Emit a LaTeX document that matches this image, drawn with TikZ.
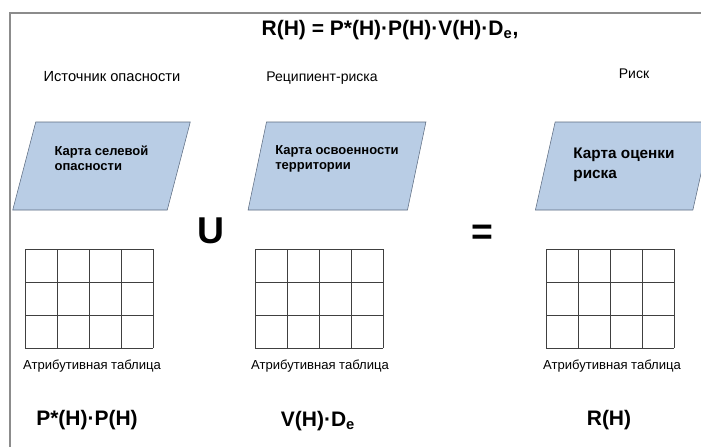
\documentclass[tikz,border=0pt]{standalone}
\usepackage{fontspec}
\setmainfont{Liberation Sans}
\usetikzlibrary{shapes.geometric,positioning}
\definecolor{mapblue}{HTML}{B9CDE5}
\definecolor{mapedge}{HTML}{5C6B80}
\definecolor{framegray}{HTML}{8C8C8C}
\definecolor{gridgray}{HTML}{404040}
\tikzset{
  map/.style   ={trapezium, trapezium left angle=68, trapezium right angle=112,
                 trapezium stretches=true, draw=mapedge, fill=mapblue,
                 minimum width=133.5pt, minimum height=66pt, inner sep=0pt,
                 align=left, text depth=12pt,
                 font=\fontsize{9.75}{11.25}\selectfont\bfseries},
  lbl/.style   ={inner sep=0pt, font=\fontsize{9.8}{12}\selectfont},
  frm/.style   ={inner sep=0pt, font=\fontsize{15.75}{18}\selectfont\bfseries},
  op/.style    ={inner sep=0pt, font=\fontsize{28}{30}\selectfont\bfseries},
  tbl/.style   ={draw=gridgray, line width=0.6pt}
}
\begin{document}
\begin{tikzpicture}[x=0.75pt, y=-0.75pt]
\useasboundingbox (0,0) rectangle (701,447);
\draw[framegray, line width=1.1pt] (10,447) -- (10,13) -- (701,13);
\node[frm] (title) at (390,30) {R(H) = P*(H)·P(H)·V(H)·D\textsubscript{e},};
\node[lbl, font=\fontsize{11}{12}\selectfont] (srclbl) at (112,77)
  {Источник опасности};
\node[lbl, font=\fontsize{10.5}{12}\selectfont] (rcplbl) at (322,78)
  {Реципиент-риска};
\node[lbl, font=\fontsize{10.5}{12}\selectfont] (risklbl) at (634,74) {Риск};
\node[map] (map1) at (101.5,166) {Карта селевой\\опасности};
\node[map] (map2) at (337,166) {Карта освоенности\\территории};
\node[map, text depth=4pt, font=\fontsize{11.5}{15}\selectfont\bfseries]
  (map3) at (624,166) {Карта оценки\\риска};
\node[op] (union) at (211,231) {U};
\node[op] (eq) at (482,235) {=};
\draw[tbl, shift={(25,249)}] (0,99) grid[xstep=24pt, ystep=24.75pt] (128,0);
\draw[tbl, shift={(255,249)}] (0,99) grid[xstep=24pt, ystep=24.75pt] (128,0);
\draw[tbl, shift={(546,249)}] (0,99) grid[xstep=24pt, ystep=24.75pt] (128,0);
\node[lbl] (tab1) at (92,366) {Атрибутивная таблица};
\node[lbl] (tab2) at (320,366) {Атрибутивная таблица};
\node[lbl] (tab3) at (612,366) {Атрибутивная таблица};
\node[frm] (f1) at (87,420) {P*(H)·P(H)};
\node[frm] (f2) at (318,421) {V(H)·D\textsubscript{e}};
\node[frm] (f3) at (609,420) {R(H)};
\end{tikzpicture}
\end{document}
